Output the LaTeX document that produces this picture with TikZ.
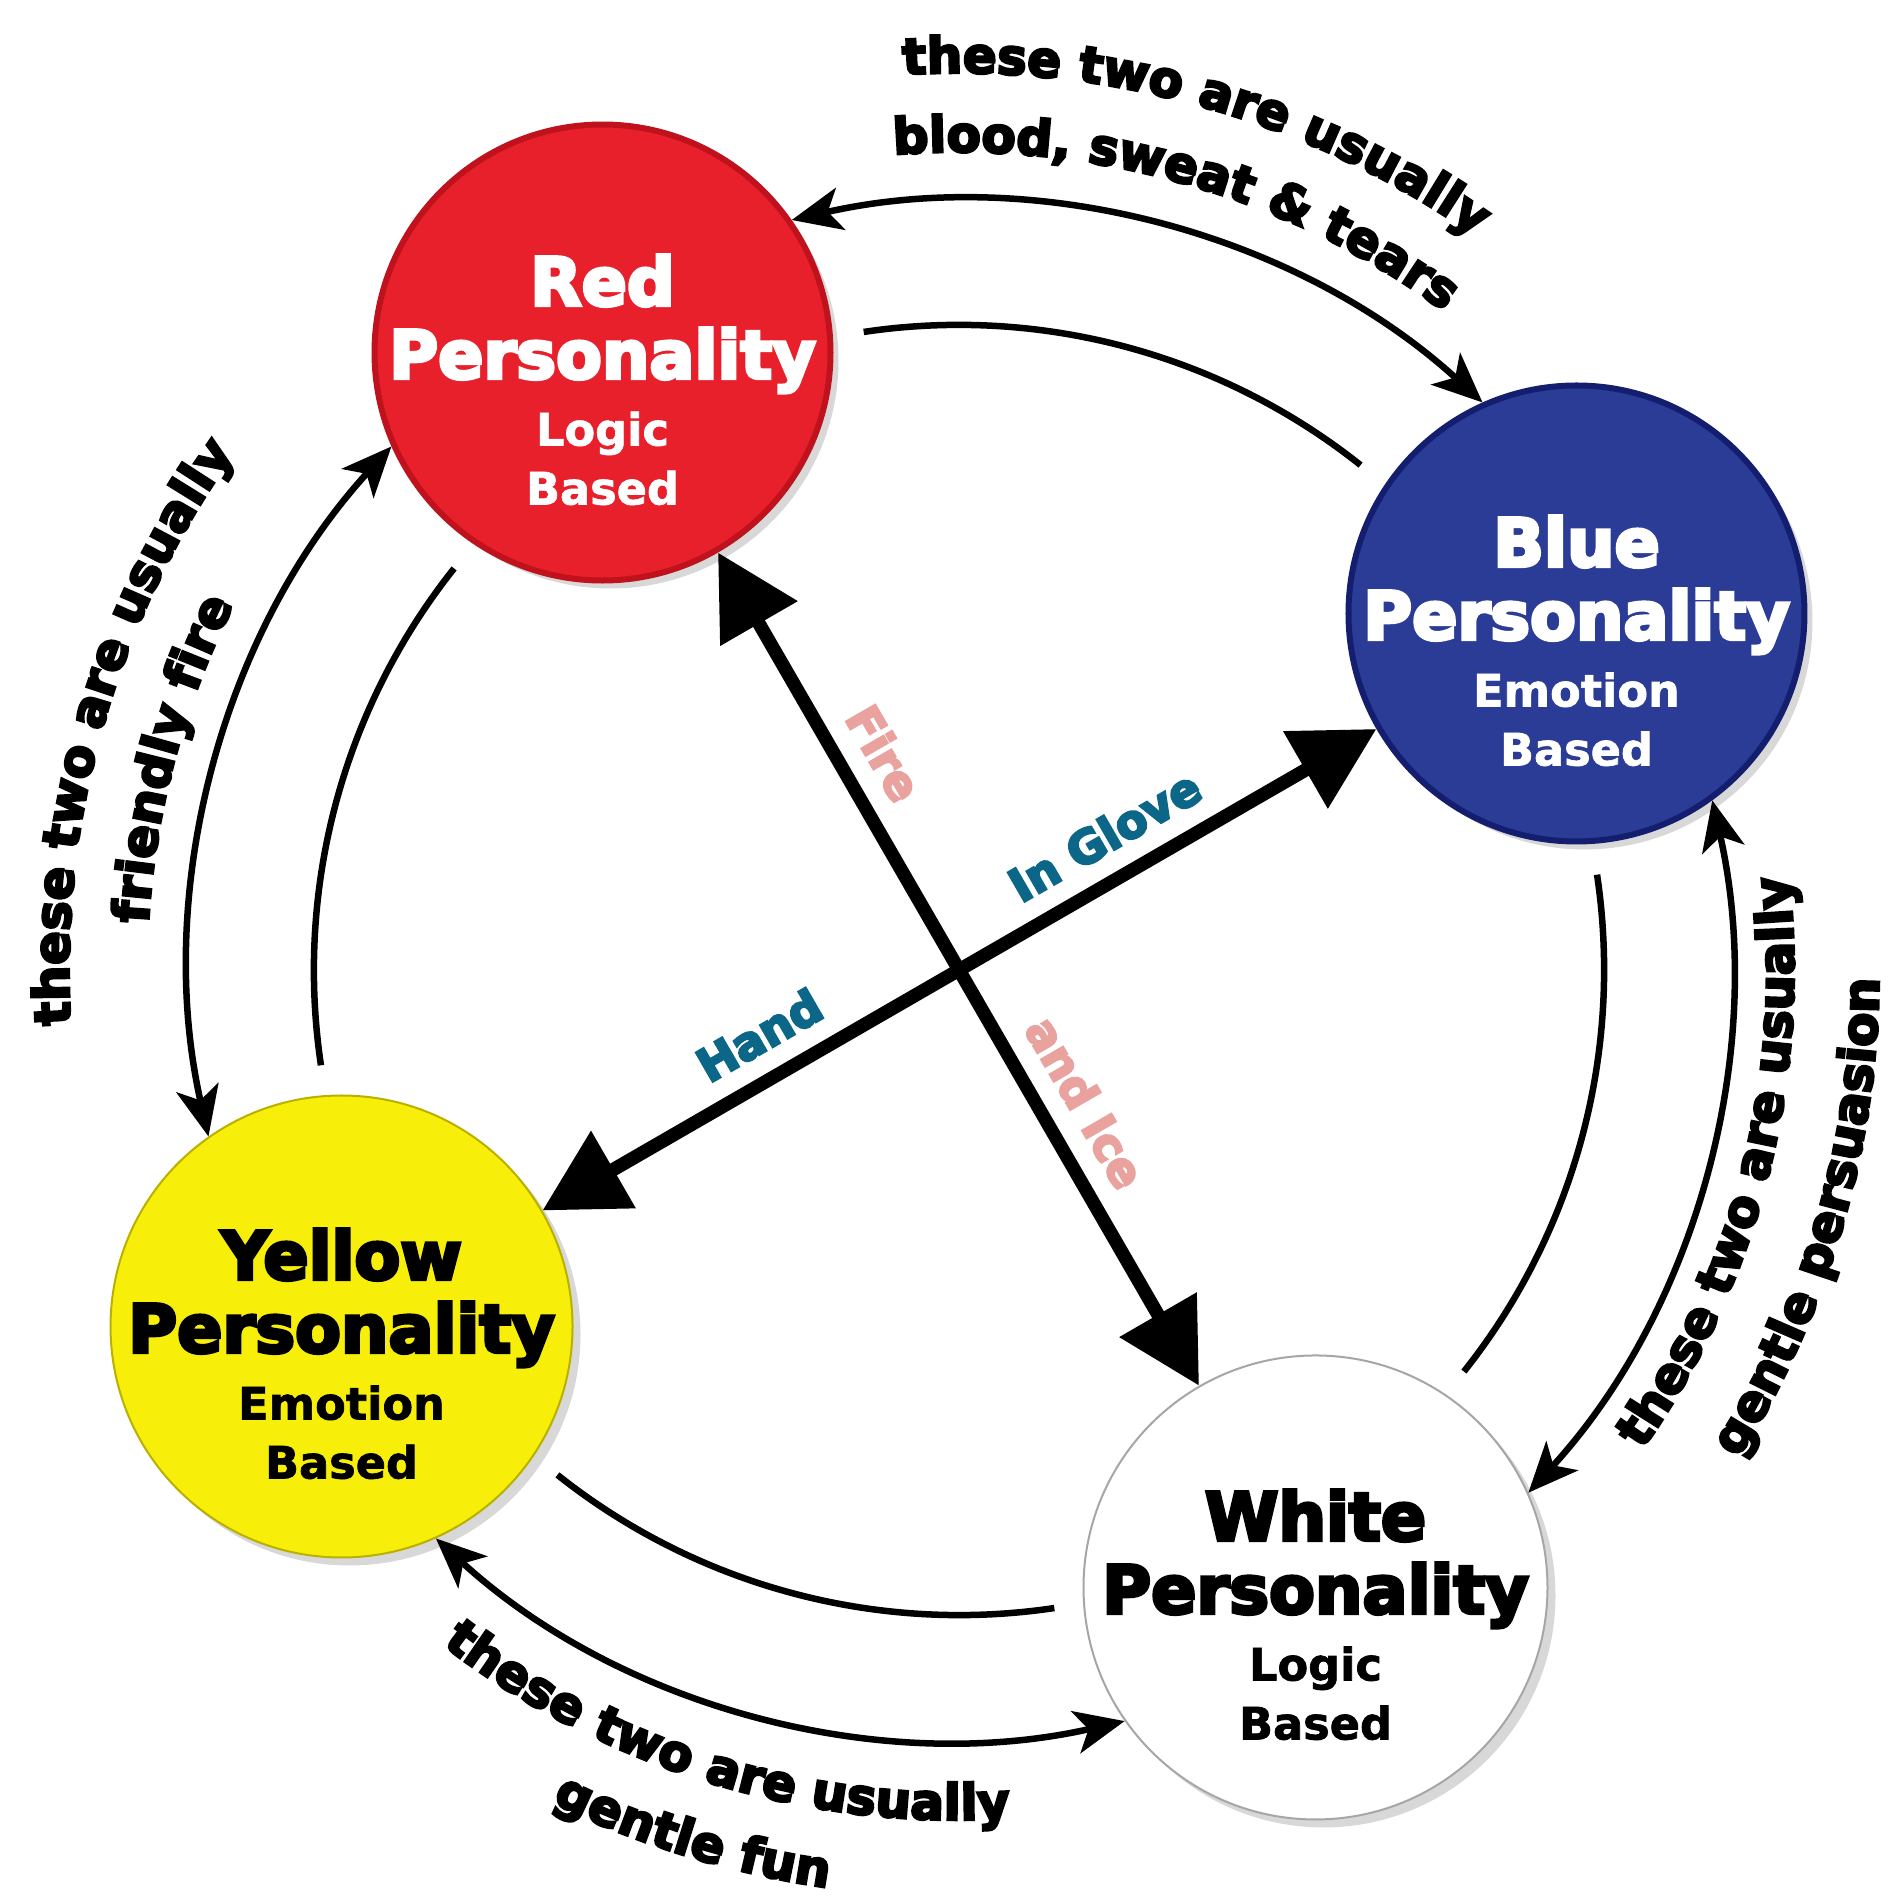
\documentclass[tikz,border=0pt]{standalone}
\usepackage{fontspec}
\setmainfont{DejaVu Sans}
\newfontfamily\heavyf{DejaVu Sans Bold}[FakeBold=5]
\newfontfamily\boldf{DejaVu Sans Bold}[FakeBold=1.5]
\usetikzlibrary{arrows.meta,calc,decorations.text,shadows}
\definecolor{redfill}{HTML}{E8202C}
\definecolor{redline}{HTML}{C0121C}
\definecolor{bluefill}{HTML}{2A3C96}
\definecolor{blueline}{HTML}{141E6E}
\definecolor{yelfill}{HTML}{F7EF0A}
\definecolor{yelline}{HTML}{B9B000}
\definecolor{labteal}{HTML}{0B6687}
\definecolor{labpink}{HTML}{E9A29E}
\newcommand\cfont{\heavyf\fontsize{14.2pt}{14.2pt}\selectfont}
\newcommand\curvtext[4]{%
  \path[decorate, decoration={text along path, text color=black, text align=center, text={|\cfont|#4}}] ($(C)+(#2:#1)$) arc[start angle=#2, end angle=#3, radius=#1];
}
\begin{document}
\begin{tikzpicture}[x=0.1mm,y=0.1mm,
  pcirc/.style={circle, inner sep=0pt, drop shadow={shadow xshift=0.8mm, shadow yshift=-0.8mm, opacity=0.3}},
  ttl/.style={anchor=base, inner sep=0pt, font=\heavyf\fontsize{19pt}{19pt}\selectfont},
  subt/.style={anchor=base, inner sep=0pt, font=\boldf\fontsize{12.7pt}{12.7pt}\selectfont},
  outarr/.style={line width=0.65mm, {Stealth[length=5mm,width=4.3mm,inset=1.3mm]}-{Stealth[length=5mm,width=4.3mm,inset=1.3mm]}},
  innerline/.style={line width=0.65mm},
  bigarr/.style={line width=1.35mm, {Triangle[length=8.2mm,width=8.6mm]}-{Triangle[length=8.2mm,width=8.6mm]}},
  lab/.style={inner sep=0pt, font=\heavyf\fontsize{13.1pt}{13.1pt}\selectfont}
]
\useasboundingbox (0,0) rectangle (1893,1900);
\fill[white] (0,0) rectangle (1893,1900);
\coordinate (C) at (959,930);

% circles
\node[pcirc, minimum size=45.6mm, fill=redfill, draw=redline, line width=0.6mm] (red) at ($(C)+(120:713)$) {};
\node[pcirc, minimum size=45.6mm, fill=bluefill, draw=blueline, line width=0.6mm] (blue) at ($(C)+(30:713)$) {};
\node[pcirc, minimum size=46.2mm, fill=yelfill, draw=yelline, line width=0.2mm] (yellow) at ($(C)+(210:713)$) {};
\node[pcirc, minimum size=46.4mm, fill=white, draw=gray!70, line width=0.2mm] (white) at ($(C)+(300:713)$) {};

% circle texts
\node[ttl, text=white] (redA) at ($(red)+(0,47)$) {Red};
\node[ttl, text=white] (redB) at ($(red)+(0,-26)$) {Personality};
\node[subt, text=white] (redC) at ($(red)+(0,-93)$) {Logic};
\node[subt, text=white] (redD) at ($(red)+(0,-152)$) {Based};

\node[ttl, text=white] (blueA) at ($(blue)+(0,47)$) {Blue};
\node[ttl, text=white] (blueB) at ($(blue)+(0,-26)$) {Personality};
\node[subt, text=white] (blueC) at ($(blue)+(0,-93)$) {Emotion};
\node[subt, text=white] (blueD) at ($(blue)+(0,-152)$) {Based};

\node[ttl] (yelA) at ($(yellow)+(0,47)$) {Yellow};
\node[ttl] (yelB) at ($(yellow)+(0,-26)$) {Personality};
\node[subt] (yelC) at ($(yellow)+(0,-93)$) {Emotion};
\node[subt] (yelD) at ($(yellow)+(0,-152)$) {Based};

\node[ttl] (whA) at ($(white)+(0,47)$) {White};
\node[ttl] (whB) at ($(white)+(0,-26)$) {Personality};
\node[subt] (whC) at ($(white)+(0,-93)$) {Logic};
\node[subt] (whD) at ($(white)+(0,-152)$) {Based};

% outer double arrows
\draw[outarr] (red.35.4) to[bend left=27.6, looseness=0.9] (blue.114.6);
\draw[outarr] (blue.-54.6) to[bend left=27.6, looseness=0.9] (white.24.6);
\draw[outarr] (white.215.4) to[bend left=27.6, looseness=0.9] (yellow.294.6);
\draw[outarr] (yellow.125.4) to[bend left=27.6, looseness=0.9] (red.204.6);

% inner lines
\draw[innerline] ($(red)+(4.5:262)$) to[bend left=23.5, looseness=0.89] ($(blue)+(145.5:262)$);
\draw[innerline] ($(blue)+(-85.5:262)$) to[bend left=23.5, looseness=0.89] ($(white)+(55.5:262)$);
\draw[innerline] ($(white)+(184.5:262)$) to[bend left=23.5, looseness=0.89] ($(yellow)+(325.5:262)$);
\draw[innerline] ($(yellow)+(94.5:262)$) to[bend left=23.5, looseness=0.89] ($(red)+(235.5:262)$);

% central arrows
\draw[bigarr] (red.-60) -- node[lab, text=labpink, pos=.267, sloped, above=1.9mm] (fire) {Fire} node[lab, text=labpink, pos=.686, sloped, above=1.9mm] (ice) {and Ice} (white.120);
\draw[bigarr] (yellow.30) -- node[lab, text=labteal, pos=.286, sloped, above=1.9mm] (hand) {Hand} node[lab, text=labteal, pos=.70, sloped, above=1.9mm] (glove) {In Glove} (blue.210);

% curved texts
\curvtext{897}{104.2}{44.2}{these two are usually}
\curvtext{818}{104.1}{44.1}{blood, sweat {\&} tears}
\curvtext{890}{194}{134}{these two are usually}
\curvtext{812}{195}{135}{friendly fire}
\curvtext{835}{-44.3}{15.7}{these two are usually}
\curvtext{920}{-46.3}{13.7}{gentle persuasion}
\curvtext{850}{223}{283}{these two are usually}
\curvtext{927}{222.9}{282.9}{gentle fun}
\end{tikzpicture}
\end{document}
